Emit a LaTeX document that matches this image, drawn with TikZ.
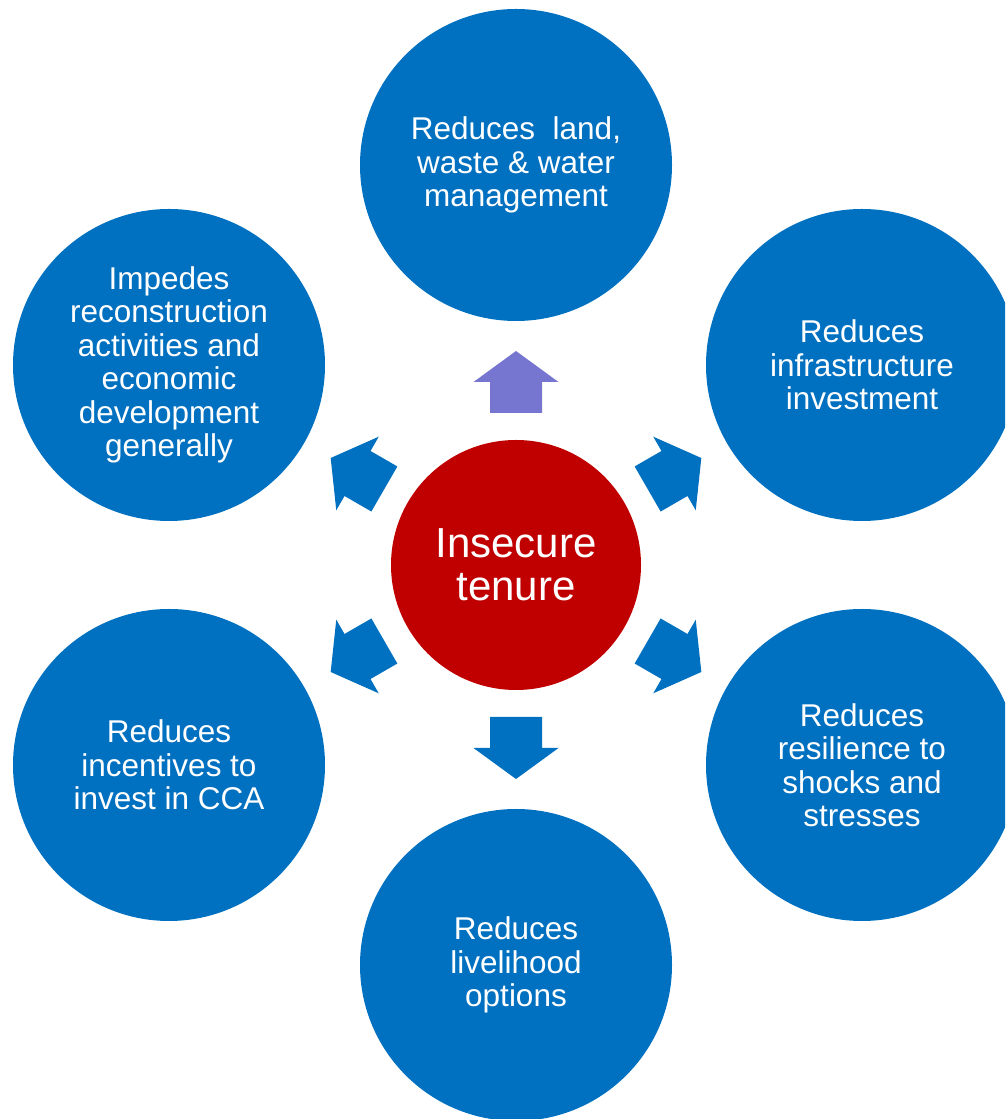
\documentclass[tikz,border=0pt]{standalone}
\usepackage{fontspec}
\setmainfont{Liberation Sans}
\usetikzlibrary{positioning}

\definecolor{bubble}{RGB}{0,112,192}
\definecolor{core}{RGB}{192,0,0}
\definecolor{lilac}{RGB}{118,118,208}

\tikzset{
    effect/.style = {circle, fill=bubble, minimum size=312, inner sep=0, text=white, align=center,
                     font=\fontsize{31.5}{33.5}\selectfont},
    cause/.style  = {circle, fill=core, minimum size=250, inner sep=0, text=white, align=center,
                     font=\fontsize{42}{43}\selectfont},
    blockarrow/.style = {fill=bubble}
}

\begin{document}
\begin{tikzpicture}[x = 1pt, y = 1pt]
    \useasboundingbox (0,0) rectangle (1005,1119);
    \clip (0,0) rectangle (1005,1119);
    % centre and the six effects
    \node[cause] (tenure) at (516,554) {Insecure\\tenure};
    \node[effect] (mgmt)   at (516,954) {Reduces~ land,\\waste \& water\\management};
    \node[effect] (infra)  at (862,754) {Reduces\\infrastructure\\investment};
    \node[effect] (resil)  at (862,354) {Reduces\\resilience to\\shocks and\\stresses};
    \node[effect] (liveli) at (516,154) {Reduces\\livelihood\\options};
    \node[effect] (incent) at (169,354) {Reduces\\incentives to\\invest in CCA};
    \node[effect] (recon)  at (169,754) {Impedes\\reconstruction\\activities and\\economic\\development\\generally};
    % block arrows out of the centre
    \foreach \a/\c in {90/lilac, 30/bubble, 330/bubble, 270/bubble, 210/bubble, 150/bubble}
    {
        \fill[\c, shift={(tenure.center)}, rotate=\a]
        (152,-26) -- (183,-26) -- (183,-42.5) -- (214,0) -- (183,42.5) -- (183,26) -- (152,26) -- cycle;
    }
\end{tikzpicture}
\end{document}
